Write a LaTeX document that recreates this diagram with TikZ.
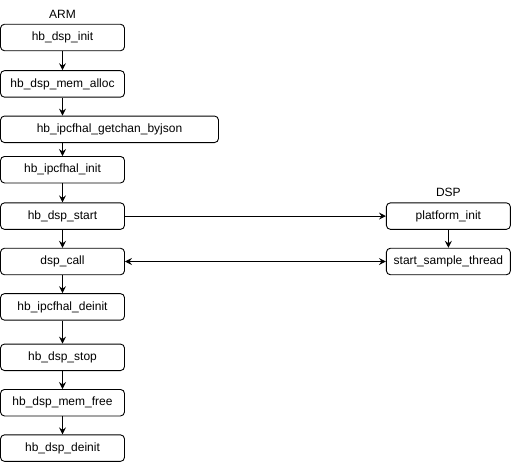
\documentclass[tikz,border=0pt]{standalone}
\usepackage{fontspec}
\setmainfont{Liberation Sans}
\usetikzlibrary{positioning,arrows.meta}

\begin{document}
\begin{tikzpicture}[%
			align = center,
			font=\fontsize{12}{14}\selectfont,
			->,
			>={Stealth[length=7pt,width=7pt,inset=2.5pt]},
			line width=0.9pt,
			node distance=18pt,
			func/.style={%
				minimum width=124pt,
				minimum height=26.5pt,
				inner sep=0pt,
				rounded corners=4pt,
				draw
			},
			side/.style={%
				inner sep=0pt
			}
			]
			\useasboundingbox (0,0) rectangle (511pt,-461pt);
			% ARM side
			\node[func] (1) at (62.5pt,-37.5pt) {hb\_dsp\_init};
			\node[func] (2) [below=19pt of 1] {hb\_dsp\_mem\_alloc};
			\node[func, minimum width=218pt] (3) [below=of 2, xshift=47pt] {hb\_ipcfhal\_getchan\_byjson};
			\node[func] (4) [below=13pt of 3, xshift=-47pt] {hb\_ipcfhal\_init};
			\node[func] (5) [below=19pt of 4] {hb\_dsp\_start};
			\node[func] (6) [below=of 5] {dsp\_call};
			\node[func] (7) [below=of 6] {hb\_ipcfhal\_deinit};
			\node[func] (8) [below=23pt of 7] {hb\_dsp\_stop};
			\node[func] (9) [below=of 8] {hb\_dsp\_mem\_free};
			\node[func] (10) [below=of 9] {hb\_dsp\_deinit};
			% DSP side
			\node[func] (11) [right=261pt of 5] {platform\_init};
			\node[func] (12) [below=of 11] {start\_sample\_thread};
			\node[side] (arm) [above=5pt of 1] {ARM};
			\node[side] (dsp) [above=5pt of 11] {DSP};

			\path (1) edge (2)
			(2.south) edge (2.south |- 3.north)
			(3.south -| 4) edge (4)
			(4) edge (5)
			(5) edge (6)
			(6) edge (7)
			(7) edge (8)
			(8) edge (9)
			(9) edge (10)
			(5) edge (11)
			(11) edge (12)
			(6) edge[<->] (12);
\end{tikzpicture}
\end{document}
